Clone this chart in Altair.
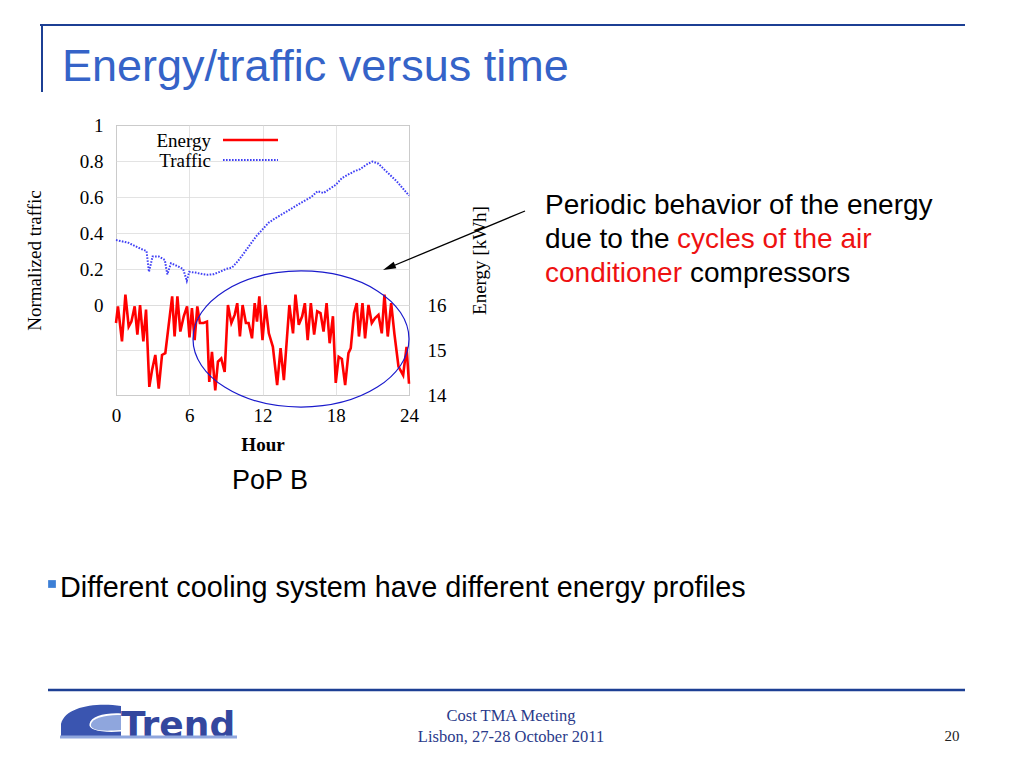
import altair as alt
import pandas as pd

# ---------------- data ----------------
traffic_hours = [0, 1, 2, 2.5, 2.7, 3, 3.5, 4, 4.2, 4.5, 5, 5.5, 5.8, 6, 6.5, 7, 7.5, 8,
                 8.5, 9, 9.5, 10, 10.5, 11, 11.5, 12, 12.5, 13, 14, 15, 16, 16.5, 17,
                 18, 18.5, 19, 19.5, 20, 20.5, 21, 21.5, 22, 23, 24]
traffic_values = [0.361, 0.346, 0.313, 0.30, 0.184, 0.27, 0.27, 0.25, 0.17, 0.232, 0.217,
                  0.20, 0.134, 0.184, 0.18, 0.173, 0.168, 0.171, 0.184, 0.20, 0.208, 0.245,
                  0.29, 0.337, 0.383, 0.42, 0.457, 0.48, 0.52, 0.562, 0.60, 0.632, 0.622,
                  0.668, 0.705, 0.724, 0.742, 0.755, 0.779, 0.797, 0.785, 0.751, 0.687, 0.608]

energy_hours = [0.0, 0.16, 0.49, 0.77, 1.04, 1.26, 1.53, 1.75, 1.97, 2.24, 2.46, 2.73, 2.95,
                3.22, 3.5, 3.77, 4.04, 4.3, 4.6, 4.8, 5.03, 5.27, 5.55, 5.82, 6.02, 6.22,
                6.44, 6.66, 6.87, 7.17, 7.45, 7.64, 7.86, 8.13, 8.35, 8.62, 8.9, 9.17, 9.45,
                9.72, 9.93, 10.15, 10.37, 10.64, 10.86, 11.14, 11.36, 11.55, 11.74, 12.0,
                12.25, 12.52, 12.85, 13.2, 13.48, 13.75, 14.2, 14.5, 14.7, 14.97, 15.25,
                15.47, 15.7, 15.96, 16.23, 16.48, 16.75, 17.0, 17.25, 17.5, 17.77, 18.0,
                18.24, 18.5, 18.77, 19.04, 19.23, 19.5, 19.72, 19.9, 20.19, 20.4, 20.68,
                20.95, 21.22, 21.5, 21.77, 21.99, 22.26, 22.54, 22.8, 23.14, 23.52, 23.8, 24.0]
energy_values = [15.6, 15.97, 15.19, 16.23, 15.52, 15.63, 15.97, 15.34, 16.0, 15.19, 15.9,
                 14.18, 14.55, 14.89, 14.14, 14.89, 14.93, 15.52, 16.19, 15.3, 16.19, 15.41,
                 15.75, 15.97, 15.28, 15.93, 15.22, 15.97, 15.6, 15.6, 15.63, 14.29, 14.96,
                 14.1, 14.74, 14.81, 14.51, 16.0, 15.6, 15.78, 16.04, 15.3, 16.0, 15.6, 15.6,
                 15.26, 16.04, 15.63, 16.19, 15.22, 16.0, 15.37, 15.07, 14.22, 15.04, 14.33,
                 16.0, 15.37, 16.23, 15.56, 15.75, 16.04, 15.22, 16.04, 15.34, 15.86, 15.82,
                 15.41, 16.04, 15.15, 15.75, 14.27, 14.85, 14.8, 14.22, 14.93, 15.04, 15.82,
                 16.04, 15.3, 16.04, 15.26, 16.0, 15.6, 15.71, 15.78, 15.37, 16.23, 15.3,
                 16.04, 15.37, 14.63, 14.44, 15.07, 14.25]

hour_ticks = [0, 6, 12, 18, 24]
traffic_ticks = [0, 0.2, 0.4, 0.6, 0.8, 1]
energy_ticks = [14, 15, 16]

tdf = pd.DataFrame({"hour": traffic_hours, "traffic": traffic_values})
edf = pd.DataFrame({"hour": energy_hours, "energy": energy_values})
one = pd.DataFrame({"k": [0]})

# ---------------- layout ----------------
OX, OY = 116, 125        # page position of plot origin
W, H = 293, 270


def px(x):
    return x - OX


def py(y):
    return y - OY


SANS = "Liberation Sans"
SERIF = "Liberation Serif"
NAVY = "#1c3f94"
TRAFFIC_BLUE = "#4040f5"


def label(t, x, y, size, color="black", font=SANS, weight="normal", align="left",
          baseline="alphabetic"):
    return alt.Chart(one).mark_text(
        text=t, font=font, fontSize=size, color=color, fontWeight=weight,
        align=align, baseline=baseline
    ).encode(x=alt.value(px(x)), y=alt.value(py(y)))


def hline(x1, x2, y, color, width, dash=None):
    kw = dict(color=color, strokeWidth=width)
    if dash:
        kw["strokeDash"] = dash
    return alt.Chart(one).mark_rule(**kw).encode(
        x=alt.value(px(x1)), x2=alt.value(px(x2)), y=alt.value(py(y)))


def vline(x, y1, y2, color, width):
    return alt.Chart(one).mark_rule(color=color, strokeWidth=width).encode(
        x=alt.value(px(x)), y=alt.value(py(y1)), y2=alt.value(py(y2)))


x_enc = alt.X(
    "hour:Q",
    scale=alt.Scale(domain=[0, 24], nice=False, zero=False),
    axis=alt.Axis(values=hour_ticks, title="Hour", titleFontWeight="bold",
                  labelPadding=11, titlePadding=10, grid=True, labelFlush=False),
)

traffic_line = alt.Chart(tdf).mark_line(
    color=TRAFFIC_BLUE, strokeWidth=2, strokeDash=[1.6, 1.4]
).encode(
    x=x_enc,
    y=alt.Y("traffic:Q",
            scale=alt.Scale(domain=[-0.5, 1], nice=False, zero=False),
            axis=alt.Axis(values=traffic_ticks, format="~g", orient="left",
                          title="Normalized traffic", labelPadding=13,
                          titlePadding=35, grid=True, labelFlush=False)),
)

energy_line = alt.Chart(edf).mark_line(color="#ff0000", strokeWidth=2.6).encode(
    x=x_enc,
    y=alt.Y("energy:Q",
            scale=alt.Scale(domain=[14, 20], nice=False, zero=False),
            axis=alt.Axis(values=energy_ticks, orient="right", title="Energy [kWh]",
                          titleAngle=270, titleBaseline="top", labelPadding=18,
                          titlePadding=24, grid=True, labelFlush=False)),
)

# legend inside the plot
legend = [
    label("Energy", 211, 141, 19, font=SERIF, align="right", baseline="middle"),
    label("Traffic", 211, 161, 19, font=SERIF, align="right", baseline="middle"),
    hline(223, 278, 140, "#ff0000", 2.6),
    hline(223, 278, 160, TRAFFIC_BLUE, 2, [1.6, 1.4]),
]

# ellipse and arrow annotation
ellipse_path = ("M-1,0 C-1,-0.348 -0.5523,-0.63 0,-0.63 C0.5523,-0.63 1,-0.348 1,0 "
                "C1,0.348 0.5523,0.63 0,0.63 C-0.5523,0.63 -1,0.348 -1,0 Z")
ellipse = alt.Chart(one).mark_point(
    shape=ellipse_path, size=216 * 216, filled=False, stroke="#1a1acc", strokeWidth=1.2,
    opacity=1
).encode(x=alt.value(px(301)), y=alt.value(py(339)))

arrow_line = alt.Chart(one).mark_rule(color="black", strokeWidth=1.3).encode(
    x=alt.value(px(525)), y=alt.value(py(211)), x2=alt.value(px(388)), y2=alt.value(py(268)))
arrow_head = alt.Chart(one).mark_point(
    shape="M0,0 L0.7,2.6 L-0.7,2.6 Z", size=100, filled=True, color="black",
    opacity=1, angle=247.4
).encode(x=alt.value(px(383)), y=alt.value(py(270)))

# logo swoosh
swoosh_path = ("M1,-0.5 C0.2,-0.62 -0.85,-0.5 -1,0.1 L-1,0.55 L1,0.55 L1,0.35 "
               "C0.35,0.4 -0.1,0.3 -0.05,0.1 C0,-0.15 0.45,-0.28 1,-0.25 Z")
swoosh_inner = ("M1,-0.2 C0.5,-0.22 0.05,-0.1 0.0,0.1 C-0.05,0.3 0.3,0.36 1,0.3 Z")

# slide decorations
deco = [
    hline(40, 965, 25, NAVY, 2),
    vline(42, 25, 92, NAVY, 2),
    label("Energy/traffic versus time", 62, 81, 45, color="#3563c8"),
    label("Periodic behavior of the energy", 545, 214, 28),
    label("due to the ", 545, 248, 28),
    label("cycles of the air", 677, 248, 28, color="#ee1111"),
    label("conditioner", 545, 282, 28, color="#ee1111"),
    label("compressors", 690, 282, 28),
    label("PoP B", 270, 489, 27, align="center"),
    alt.Chart(one).mark_square(size=60, color="#3c7fd6", opacity=1).encode(
        x=alt.value(px(52)), y=alt.value(py(584))),
    label("Different cooling system have different energy profiles", 60, 597, 28.8),
    hline(48, 965, 690, NAVY, 2.5),
    alt.Chart(one).mark_point(shape=swoosh_path, size=3600, filled=True,
                              color="#3a55b0", opacity=1).encode(
        x=alt.value(px(91)), y=alt.value(py(721))),
    alt.Chart(one).mark_point(shape=swoosh_inner, size=3600, filled=True,
                              color="#8fa6dd", opacity=1).encode(
        x=alt.value(px(91)), y=alt.value(py(721))),
    label("Trend", 121, 737, 36, color="#33479e", font="DejaVu Sans", weight="bold"),
    hline(60, 237, 737, "#8fa6dd", 3),
    label("Cost TMA Meeting", 511, 721, 16.5, color="#2a3a8a", font=SERIF, align="center"),
    label("Lisbon, 27-28 October 2011", 511, 742, 16.5, color="#2a3a8a", font=SERIF,
          align="center"),
    label("20", 952, 741, 15, color="#222222", font=SERIF, align="center"),
]

chart = alt.layer(
    traffic_line, energy_line, *legend, ellipse, arrow_line, arrow_head, *deco
).resolve_scale(
    y="independent"
).properties(
    width=W, height=H,
    autosize=alt.AutoSizeParams(type="none"),
    padding={"left": 108, "top": 117, "right": 1008 - 108 - W, "bottom": 752 - 117 - H},
    background="white",
).configure_view(
    stroke="#888888", strokeWidth=1
).configure_axis(
    labelFont=SERIF, titleFont=SERIF, labelFontSize=19, titleFontSize=19,
    labelColor="black", titleColor="black", labelFontWeight="normal",
    titleFontWeight="normal",
    domain=False, tickSize=0, gridColor="#dcdcdc", gridWidth=0.8,
)

chart.save("out.html", embed_options={"renderer": "svg", "actions": False})
